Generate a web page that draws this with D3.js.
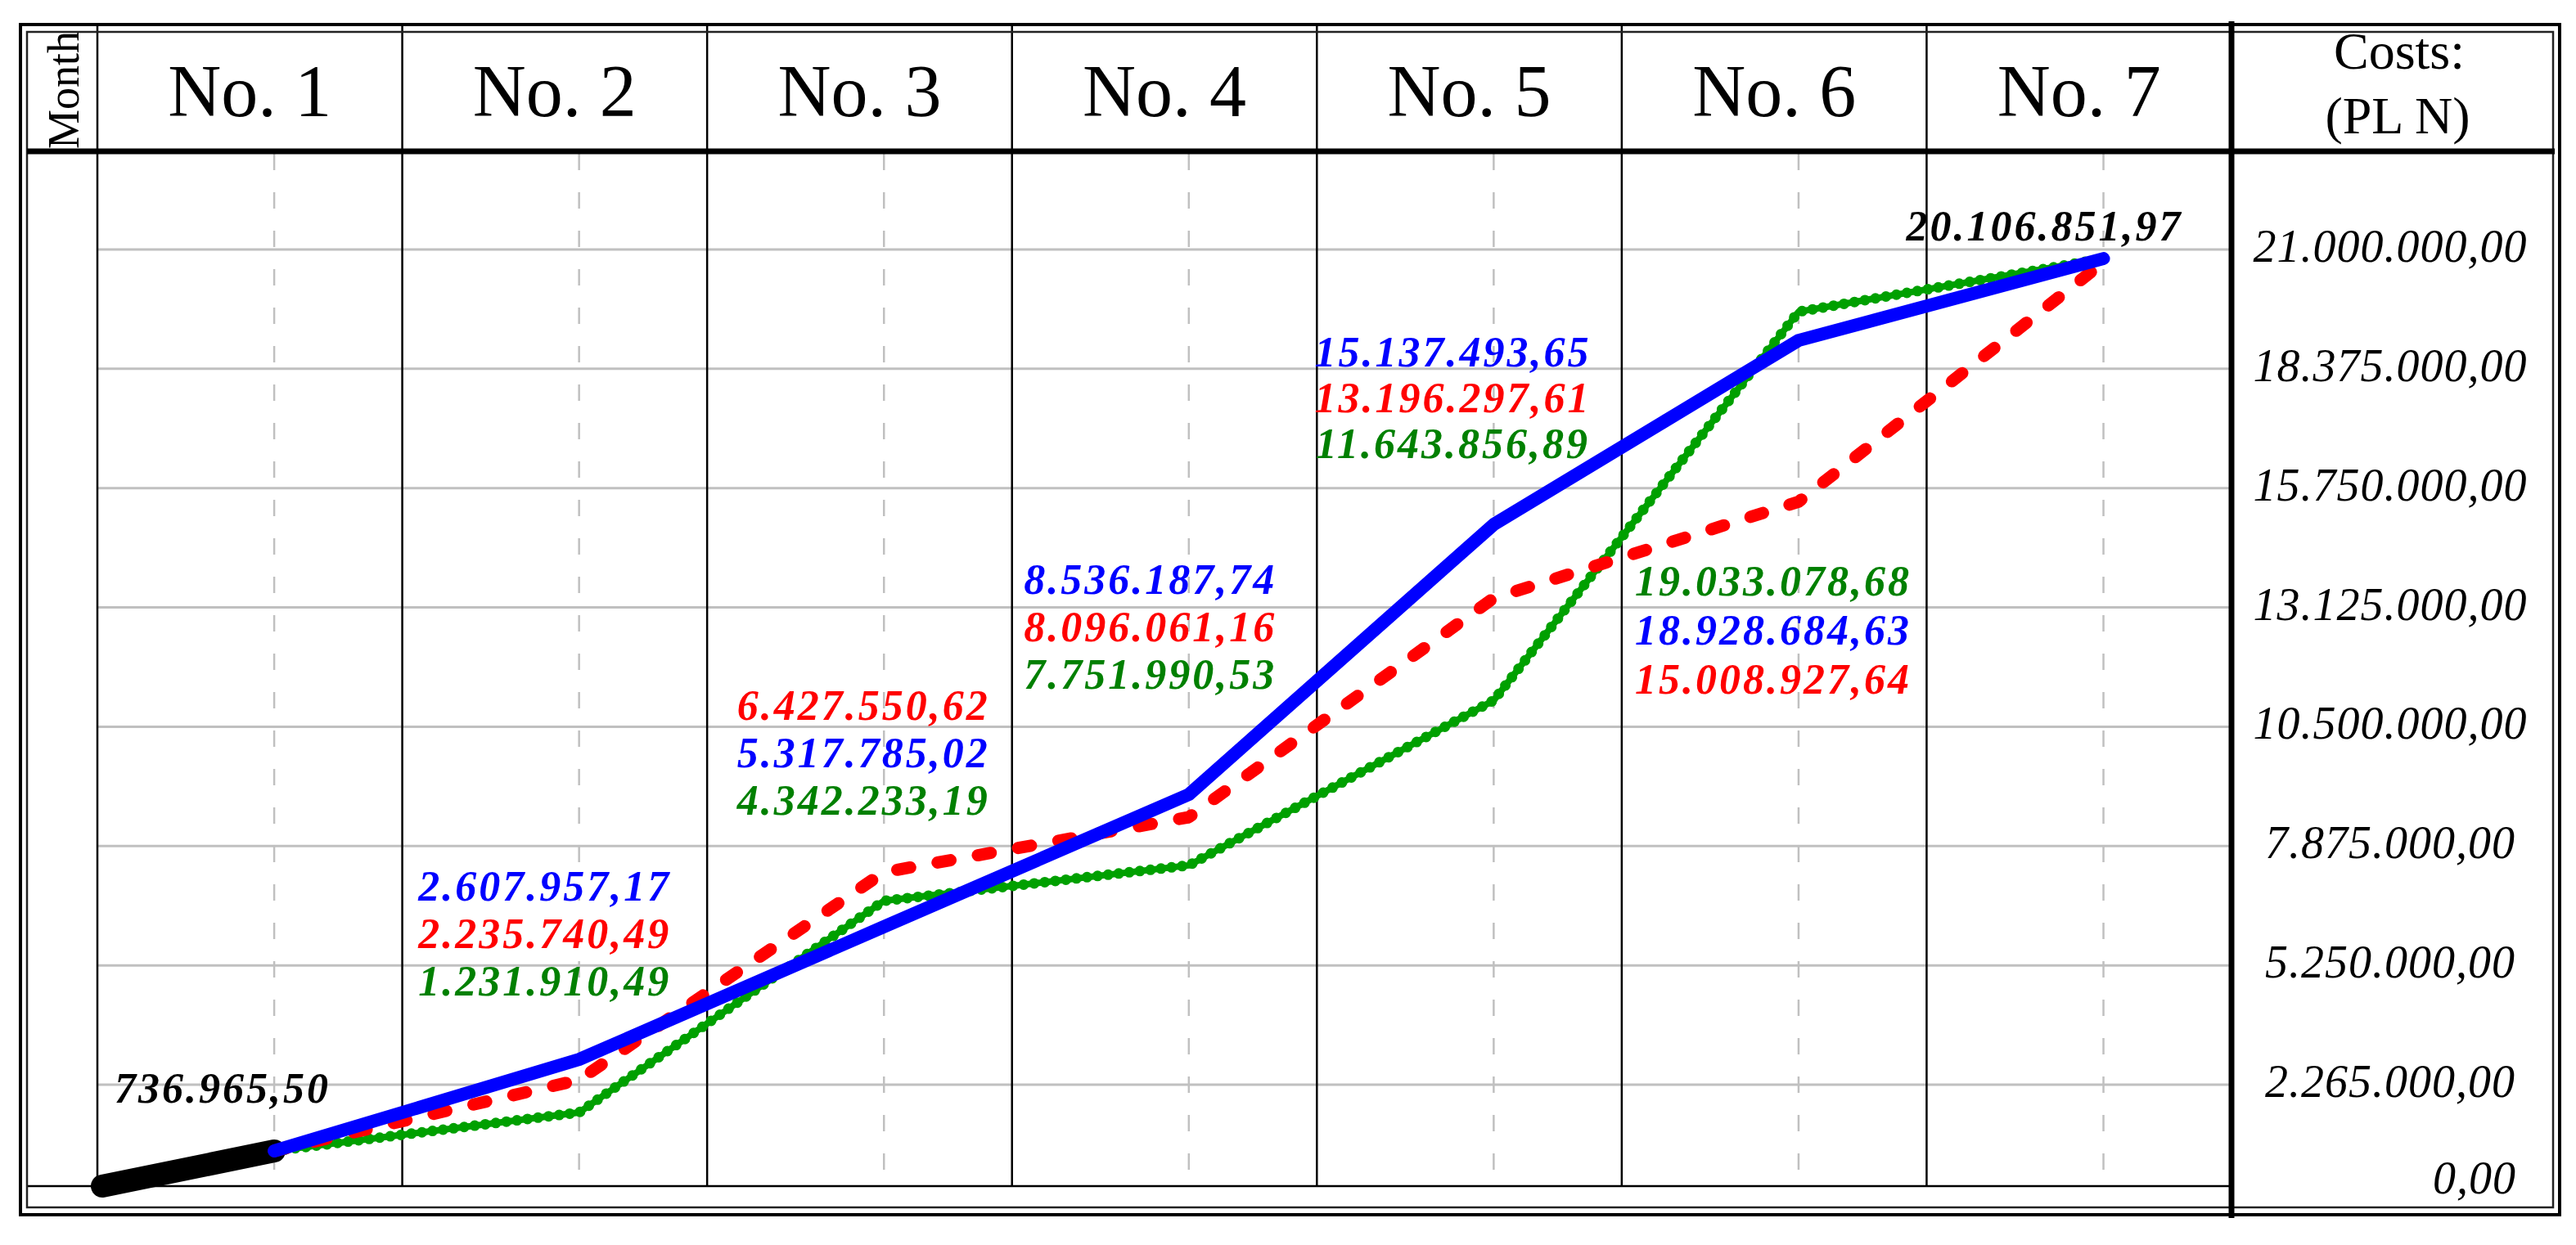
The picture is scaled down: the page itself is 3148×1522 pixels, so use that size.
<!DOCTYPE html>
<html>
<head>
<meta charset="utf-8">
<script src="https://cdn.jsdelivr.net/npm/d3@7"></script>
<style>
  html, body { margin: 0; padding: 0; background: #fff; }
  svg { display: block; }
</style>
</head>
<body>
<script>
// ---------------- DATA ----------------
const months = ["No. 1", "No. 2", "No. 3", "No. 4", "No. 5", "No. 6", "No. 7"];

// plotted cumulative costs (PLN)
const blueValues  = [910000, 3180000, 6100000, 9010000, 14950000, 19000000, 20800000];
const redValues   = [910000, 2730000, 7300000, 8510000, 13330000, 15450000, 20720000];
const greenValues = [910000, 1905000, 6670000, 7450000, 11080000, 19630000, 20800000];
const startValues = [0, 910000];          // black: project start -> end of month 1

// y axis ticks and their printed labels
const tickValues = [0, 2625000, 5250000, 7875000, 10500000, 13125000, 15750000, 18375000, 21000000];
const tickLabels = ["0,00", "2.265.000,00", "5.250.000,00", "7.875.000,00", "10.500.000,00",
                    "13.125.000,00", "15.750.000,00", "18.375.000,00", "21.000.000,00"];

// value labels printed in the chart
const blueLabels  = ["", "2.607.957,17", "5.317.785,02", "8.536.187,74", "15.137.493,65", "18.928.684,63", ""];
const redLabels   = ["", "2.235.740,49", "6.427.550,62", "8.096.061,16", "13.196.297,61", "15.008.927,64", ""];
const greenLabels = ["", "1.231.910,49", "4.342.233,19", "7.751.990,53", "11.643.856,89", "19.033.078,68", ""];
const blackLabels = ["736.965,50", "", "", "", "", "", "20.106.851,97"];
const labelOrder  = [["black"], ["blue", "red", "green"], ["red", "blue", "green"], ["blue", "red", "green"],
                     ["blue", "red", "green"], ["green", "blue", "red"], ["black"]];

// ---------------- LAYOUT ----------------
const W = 3148, H = 1522;
const L = {
  outer: {x0: 25, y0: 30, x1: 3128, y1: 1485},
  inner: {x0: 33, y0: 39, x1: 3120, y1: 1476},
  monthColRight: 119, plotRight: 2727,
  headerBottom: 185, plotBottom: 1450,
  y21: 305, y2625: 1326,
  axisCenter: 2921, axisRight: 3075,
  labelDx:  [-63, -42, -25, -47, -50, -31, -72],
  labelTop: [1348, 1101, 880, 726, 448, 728, 294],
  labelStep: [58, 58, 58, 58, 56, 60, 58]
};
const colors = { blue: "#0000ff", red: "#ff0000", green: "#00a000", black: "#000000" };
const textColors = { blue: "#0000ff", red: "#ff0000", green: "#008000", black: "#000000" };
const serif = "'Liberation Serif', 'Times New Roman', Times, serif";

const svg = d3.select("body").append("svg").attr("width", W).attr("height", H);

// scales
const x = d3.scaleBand().domain(months).range([L.monthColRight, L.plotRight]).padding(0);
const px = m => x(m) + x.bandwidth() * 0.58;
const y = d3.scaleLinear().domain([0, 2625000, 21000000]).range([L.plotBottom, L.y2625, L.y21]);

// horizontal grid
svg.append("g").selectAll("line").data(tickValues.filter(v => v > 0)).join("line")
  .attr("x1", L.monthColRight).attr("x2", L.plotRight + 2)
  .attr("y1", d => y(d)).attr("y2", d => y(d))
  .attr("stroke", "#c0c0c0").attr("stroke-width", 3);

// dashed vertical guides at data points
svg.append("g").selectAll("line").data(months).join("line")
  .attr("x1", d => px(d)).attr("x2", d => px(d))
  .attr("y1", L.headerBottom + 3).attr("y2", L.plotBottom)
  .attr("stroke", "#c0c0c0").attr("stroke-width", 2.5).attr("stroke-dasharray", "20,27");

// column lines
svg.append("g").selectAll("line").data(months.slice(1)).join("line")
  .attr("x1", d => x(d)).attr("x2", d => x(d))
  .attr("y1", L.outer.y0).attr("y2", L.plotBottom)
  .attr("stroke", "#000").attr("stroke-width", 2.5);
svg.append("line").attr("x1", L.monthColRight).attr("x2", L.monthColRight)
  .attr("y1", L.outer.y0).attr("y2", L.plotBottom).attr("stroke", "#000").attr("stroke-width", 2.5);

// plot bottom line
svg.append("line").attr("x1", L.inner.x0).attr("x2", L.plotRight)
  .attr("y1", L.plotBottom).attr("y2", L.plotBottom).attr("stroke", "#000").attr("stroke-width", 2.5);

// frames
svg.append("rect").attr("x", L.outer.x0).attr("y", L.outer.y0)
  .attr("width", L.outer.x1 - L.outer.x0).attr("height", L.outer.y1 - L.outer.y0)
  .attr("fill", "none").attr("stroke", "#000").attr("stroke-width", 4);
svg.append("rect").attr("x", L.inner.x0).attr("y", L.inner.y0)
  .attr("width", L.inner.x1 - L.inner.x0).attr("height", L.inner.y1 - L.inner.y0)
  .attr("fill", "none").attr("stroke", "#222").attr("stroke-width", 2.5);

// header bottom thick line
svg.append("line").attr("x1", L.inner.x0).attr("x2", L.inner.x1 + 2)
  .attr("y1", L.headerBottom).attr("y2", L.headerBottom).attr("stroke", "#000").attr("stroke-width", 7);
// thick axis separator
svg.append("line").attr("x1", L.plotRight).attr("x2", L.plotRight)
  .attr("y1", L.outer.y0 - 4).attr("y2", L.outer.y1 + 4).attr("stroke", "#000").attr("stroke-width", 7);

// header texts
svg.append("g").selectAll("text").data(months).join("text")
  .attr("x", d => x(d) + x.bandwidth() / 2).attr("y", 142)
  .attr("text-anchor", "middle").attr("font-family", serif).attr("font-size", 90)
  .text(d => d);

svg.append("clipPath").attr("id", "monthClip").append("rect")
  .attr("x", L.inner.x0 + 2).attr("y", L.inner.y0 + 1)
  .attr("width", L.monthColRight - L.inner.x0 - 4).attr("height", L.headerBottom - L.inner.y0 - 4);
svg.append("g").attr("clip-path", "url(#monthClip)")
  .append("text")
  .attr("transform", `translate(96, ${L.headerBottom - 3}) rotate(-90)`)
  .attr("font-family", serif).attr("font-size", 54).attr("fill", "#000").text("Month");

svg.append("text").attr("x", 2932).attr("y", 84).attr("text-anchor", "middle")
  .attr("font-family", serif).attr("font-size", 64).text("Costs:");
svg.append("text").attr("x", 2930).attr("y", 163).attr("text-anchor", "middle")
  .attr("font-family", serif).attr("font-size", 64).text("(PL N)");

// y axis labels
svg.append("g").selectAll("text").data(tickValues).join("text")
  .attr("x", d => d === 0 ? L.axisRight : L.axisCenter)
  .attr("y", d => y(d) + (d === 0 ? 9 : 15))
  .attr("text-anchor", d => d === 0 ? "end" : "middle")
  .attr("font-family", serif).attr("font-style", "italic").attr("font-size", 56)
  .attr("letter-spacing", 1)
  .text((d, i) => tickLabels[i]);

// lines
const seriesLine = d3.line().x(d => d[0]).y(d => y(d[1]));
const pts = vals => vals.map((v, i) => [px(months[i]), v]);
const startPts = [[x(months[0]) + 6, startValues[0]], [px(months[0]), startValues[1]]];

svg.append("path").attr("d", seriesLine(startPts)).attr("fill", "none")
  .attr("stroke", colors.black).attr("stroke-width", 28).attr("stroke-linecap", "round");

svg.append("path").attr("d", seriesLine(pts(greenValues))).attr("fill", "none")
  .attr("stroke", colors.green).attr("stroke-width", 8).attr("stroke-linejoin", "round");
svg.append("path").attr("d", seriesLine(pts(greenValues))).attr("fill", "none")
  .attr("stroke", colors.green).attr("stroke-width", 13).attr("stroke-linecap", "round")
  .attr("stroke-dasharray", "0,13");

svg.append("path").attr("d", seriesLine(pts(redValues))).attr("fill", "none")
  .attr("stroke", colors.red).attr("stroke-width", 15).attr("stroke-linecap", "round")
  .attr("stroke-linejoin", "round").attr("stroke-dasharray", "16,34");

svg.append("path").attr("d", seriesLine(pts(blueValues))).attr("fill", "none")
  .attr("stroke", colors.blue).attr("stroke-width", 16).attr("stroke-linecap", "round")
  .attr("stroke-linejoin", "round");

// value labels
const labelSets = { blue: blueLabels, red: redLabels, green: greenLabels, black: blackLabels };
const labelData = [];
months.forEach((m, i) => {
  labelOrder[i].forEach((s, r) => {
    labelData.push({ m, s, text: labelSets[s][i],
      x: px(m) + L.labelDx[i], y: L.labelTop[i] + r * L.labelStep[i] });
  });
});
svg.append("g").selectAll("text").data(labelData).join("text")
  .attr("x", d => d.x).attr("y", d => d.y).attr("text-anchor", "middle")
  .attr("font-family", serif).attr("font-style", "italic").attr("font-weight", "bold")
  .attr("font-size", 52).attr("letter-spacing", 3)
  .attr("fill", d => textColors[d.s]).text(d => d.text);
</script>
</body>
</html>
